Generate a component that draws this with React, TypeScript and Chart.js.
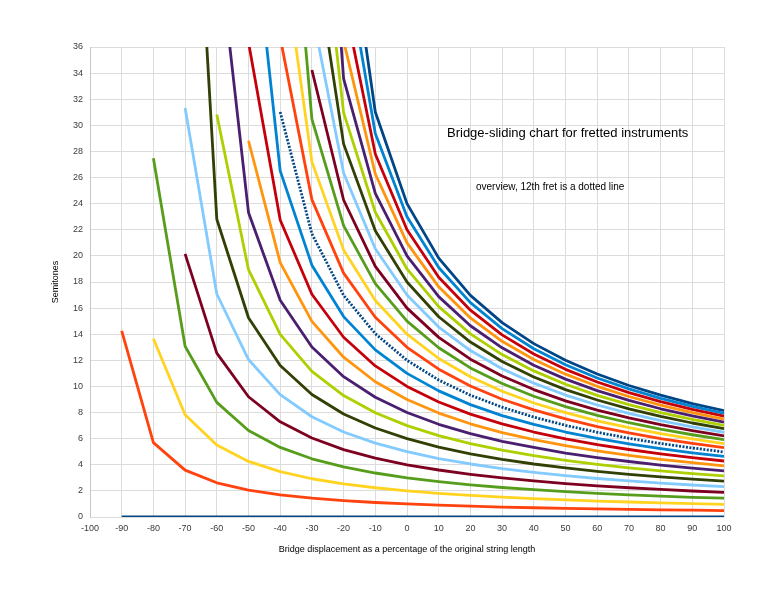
import React, { useEffect, useRef } from "react";
import { Chart, registerables } from "chart.js";

Chart.register(...registerables);

// Bridge displacement (% of original string length)
const X_VALUES = [-90, -80, -70, -60, -50, -40, -30, -20, -10, 0, 10, 20, 30, 40, 50, 60, 70, 80, 90, 100];

// Semitones for each fret (0..24); null = not defined
const FRET_0 = [0, 0, 0, 0, 0, 0, 0, 0, 0, 0, 0, 0, 0, 0, 0, 0, 0, 0, 0, 0];
const FRET_1 = [14.26, 5.7, 3.59, 2.62, 2.06, 1.7, 1.45, 1.26, 1.11, 1.0, 0.91, 0.83, 0.76, 0.71, 0.66, 0.62, 0.58, 0.55, 0.52, 0.49];
const FRET_2 = [null, 13.65, 7.83, 5.51, 4.26, 3.47, 2.93, 2.54, 2.24, 2, 1.81, 1.65, 1.52, 1.41, 1.31, 1.22, 1.15, 1.08, 1.02, 0.97];
const FRET_3 = [null, 27.48, 13.08, 8.78, 6.63, 5.33, 4.46, 3.84, 3.37, 3, 2.71, 2.46, 2.26, 2.09, 1.94, 1.81, 1.7, 1.6, 1.51, 1.44];
const FRET_4 = [null, null, 20.15, 12.55, 9.21, 7.29, 6.05, 5.16, 4.51, 4, 3.6, 3.27, 2.99, 2.76, 2.56, 2.39, 2.24, 2.11, 1.99, 1.88];
const FRET_5 = [null, null, 31.32, 17.08, 12.06, 9.37, 7.68, 6.51, 5.66, 5, 4.48, 4.06, 3.71, 3.42, 3.17, 2.95, 2.76, 2.6, 2.45, 2.32];
const FRET_6 = [null, null, 64.79, 22.81, 15.26, 11.6, 9.38, 7.89, 6.82, 6, 5.36, 4.84, 4.42, 4.06, 3.76, 3.5, 3.27, 3.08, 2.9, 2.74];
const FRET_7 = [null, null, null, 30.83, 18.94, 13.99, 11.16, 9.3, 7.99, 7, 6.23, 5.62, 5.12, 4.7, 4.34, 4.03, 3.77, 3.54, 3.33, 3.15];
const FRET_8 = [null, null, null, 44.87, 23.33, 16.6, 13.02, 10.75, 9.17, 8, 7.1, 6.38, 5.8, 5.33, 4.9, 4.55, 4.25, 3.98, 3.75, 3.54];
const FRET_9 = [null, null, null, null, 28.82, 19.49, 14.98, 12.24, 10.36, 9, 7.96, 7.14, 6.47, 5.92, 5.46, 5.06, 4.72, 4.42, 4.16, 3.92];
const FRET_10 = [null, null, null, null, 36.36, 22.75, 17.06, 13.77, 11.57, 10, 8.81, 7.88, 7.13, 6.51, 5.99, 5.55, 5.17, 4.84, 4.55, 4.29];
const FRET_11 = [null, null, null, null, 48.86, 26.51, 19.29, 15.35, 12.8, 11, 9.66, 8.61, 7.77, 7.09, 6.51, 6.03, 5.61, 5.24, 4.92, 4.64];
const FRET_12 = [null, null, null, null, null, 31.02, 21.69, 16.98, 14.04, 12, 10.49, 9.33, 8.41, 7.65, 7.02, 6.49, 6.03, 5.63, 5.29, 4.98];
const FRET_13 = [null, null, null, null, null, 36.72, 24.31, 18.68, 15.3, 13, 11.32, 10.04, 9.02, 8.2, 7.51, 6.93, 6.44, 6.01, 5.64, 5.31];
const FRET_14 = [null, null, null, null, null, 44.67, 27.2, 20.46, 16.58, 14, 12.14, 10.74, 9.63, 8.73, 7.99, 7.37, 6.84, 6.38, 5.98, 5.62];
const FRET_15 = [null, null, null, null, null, 58.5, 30.47, 22.32, 17.88, 15, 12.96, 11.42, 10.22, 9.25, 8.46, 7.79, 7.22, 6.73, 6.3, 5.92];
const FRET_16 = [null, null, null, null, null, null, 34.24, 24.28, 19.2, 16, 13.76, 12.09, 10.8, 9.76, 8.9, 8.19, 7.59, 7.07, 6.61, 6.21];
const FRET_17 = [null, null, null, null, null, null, 38.77, 26.35, 20.55, 17, 14.55, 12.75, 11.36, 10.25, 9.34, 8.58, 7.94, 7.39, 6.91, 6.49];
const FRET_18 = [null, null, null, null, null, null, 44.5, 28.58, 21.93, 18, 15.34, 13.4, 11.91, 10.72, 9.76, 8.96, 8.28, 7.7, 7.2, 6.76];
const FRET_19 = [null, null, null, null, null, null, 52.51, 30.97, 23.34, 19, 16.11, 14.03, 12.44, 11.19, 10.17, 9.32, 8.61, 8.0, 7.48, 7.02];
const FRET_20 = [null, null, null, null, null, null, 66.56, 33.58, 24.79, 20, 16.88, 14.65, 12.96, 11.63, 10.56, 9.68, 8.93, 8.29, 7.74, 7.26];
const FRET_21 = [null, null, null, null, null, null, null, 36.47, 26.27, 21, 17.63, 15.25, 13.46, 12.07, 10.94, 10.01, 9.23, 8.57, 8.0, 7.49];
const FRET_22 = [null, null, null, null, null, null, null, 39.73, 27.8, 22, 18.37, 15.84, 13.95, 12.49, 11.31, 10.34, 9.53, 8.83, 8.24, 7.72];
const FRET_23 = [null, null, null, null, null, null, null, 43.49, 29.38, 23, 19.11, 16.42, 14.43, 12.89, 11.66, 10.65, 9.81, 9.09, 8.47, 7.93];
const FRET_24 = [null, null, null, null, null, null, null, 48.0, 31.02, 24, 19.83, 16.98, 14.89, 13.28, 12.0, 10.95, 10.07, 9.33, 8.69, 8.14];

const FRETS = [
  FRET_0, FRET_1, FRET_2, FRET_3, FRET_4, FRET_5, FRET_6, FRET_7, FRET_8, FRET_9,
  FRET_10, FRET_11, FRET_12, FRET_13, FRET_14, FRET_15, FRET_16, FRET_17, FRET_18,
  FRET_19, FRET_20, FRET_21, FRET_22, FRET_23, FRET_24,
];

const PALETTE = [
  "#004586", "#ff420e", "#ffd320", "#579d1c", "#7e0021", "#83caff",
  "#314004", "#aecf00", "#4b1f6f", "#ff950e", "#c5000b", "#0084d1",
];

const DOTTED_FRET = 12;

const TITLE = "Bridge-sliding chart for fretted instruments";
const SUBTITLE = "overview, 12th fret is a dotted line";
const X_TITLE = "Bridge displacement as a percentage of the original string length";
const Y_TITLE = "Semitones";

const FONT = "'Liberation Sans', Arial, Helvetica, sans-serif";

const annotationPlugin = {
  id: "annotations",
  afterDatasetsDraw(chart: any) {
    const { ctx, chartArea } = chart;
    ctx.save();
    ctx.fillStyle = "#000000";
    ctx.textBaseline = "middle";
    ctx.textAlign = "left";
    ctx.font = `13px ${FONT}`;
    ctx.fillText(TITLE, chartArea.left + 357, chartArea.top + 86);
    ctx.font = `10px ${FONT}`;
    ctx.fillText(SUBTITLE, chartArea.left + 386, chartArea.top + 140);
    ctx.restore();
  },
};

export default function App() {
  const canvasRef = useRef<HTMLCanvasElement | null>(null);

  useEffect(() => {
    const canvas = canvasRef.current;
    if (!canvas) return;

    const datasets = FRETS.map((values, n) => ({
      label: `Fret ${n}`,
      data: X_VALUES.map((x, i) => ({ x, y: values[i] })),
      borderColor: PALETTE[n % PALETTE.length],
      backgroundColor: PALETTE[n % PALETTE.length],
      borderWidth: 2.8,
      borderDash: n === DOTTED_FRET ? [2, 1.5] : [],
      pointRadius: 0,
      pointHoverRadius: 0,
      tension: 0,
      fill: false,
      spanGaps: false,
      borderJoinStyle: "round" as const,
    }));

    const chart = new Chart(canvas, {
      type: "line",
      data: { datasets },
      options: {
        animation: false,
        responsive: false,
        devicePixelRatio: 1,
        layout: { padding: { left: 0, top: 47, right: 52, bottom: 0 } },
        plugins: {
          legend: { display: false },
          tooltip: { enabled: false },
          title: { display: false },
        },
        scales: {
          x: {
            type: "linear",
            min: -100,
            max: 100,
            ticks: {
              stepSize: 10,
              color: "#3a3a3a",
              font: { family: FONT, size: 9 },
              padding: 6,
              maxRotation: 0,
              autoSkip: false,
            },
            grid: { color: "#dcdcdc", lineWidth: 1, drawTicks: false },
            border: { display: false },
            title: {
              display: true,
              text: X_TITLE,
              color: "#000000",
              font: { family: FONT, size: 9 },
              padding: { top: 0, bottom: 45 },
            },
            afterFit: (scale: any) => {
              scale.height = 83;
            },
          },
          y: {
            type: "linear",
            min: 0,
            max: 36,
            ticks: {
              stepSize: 2,
              color: "#3a3a3a",
              font: { family: FONT, size: 9 },
              padding: 7,
            },
            grid: { color: "#dcdcdc", lineWidth: 1, drawTicks: false },
            border: { display: true, color: "#c8c8c8" },
            title: {
              display: true,
              text: Y_TITLE,
              color: "#000000",
              font: { family: FONT, size: 9 },
              padding: { top: 50, bottom: 0 },
            },
            afterFit: (scale: any) => {
              scale.width = 90;
            },
          },
        },
      },
      plugins: [annotationPlugin],
    });

    return () => {
      chart.destroy();
    };
  }, []);

  return (
    <div style={{ position: "absolute", left: 0, top: 0, width: 776, height: 600, background: "#ffffff" }}>
      <canvas ref={canvasRef} width={776} height={600} />
    </div>
  );
}
